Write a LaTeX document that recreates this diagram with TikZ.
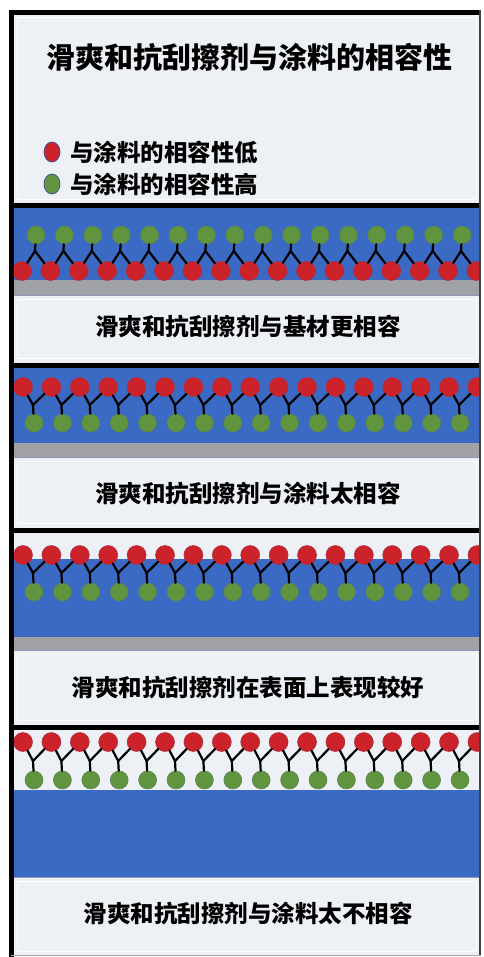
\documentclass[tikz,border=0pt]{standalone}
\usepackage{fontspec}
\newfontfamily\cjk{Noto Sans CJK SC}
\usetikzlibrary{shapes.geometric}
\definecolor{redc}{RGB}{204,34,42}
\definecolor{greenc}{RGB}{96,148,62}
\definecolor{coat}{RGB}{58,106,196}
\definecolor{substrate}{RGB}{160,162,165}
\definecolor{panelbg}{RGB}{237,240,245}
\definecolor{ringc}{RGB}{70,80,150}
\tikzset{
  redball/.style={circle, fill=redc, draw=redc!75!ringc, line width=0.5pt, minimum size=19pt, inner sep=0pt},
  greenball/.style={circle, fill=greenc, draw=greenc!75!ringc, line width=0.5pt, minimum size=18pt, inner sep=0pt},
  link/.style={line width=2.2pt, black, line cap=round, line join=round},
  sepline/.style={line width=5pt, black},
  titletext/.style={font=\cjk\bfseries\fontsize{29}{32}\selectfont, inner sep=0pt},
  legtext/.style={font=\cjk\bfseries\fontsize{23.5}{26}\selectfont, inner sep=0pt, anchor=west},
  labeltext/.style={font=\cjk\bfseries\fontsize{23.5}{26}\selectfont, inner sep=0pt},
  legdot/.style={ellipse, minimum width=16pt, minimum height=20pt, inner sep=0pt, draw=ringc, line width=0.8pt},
  glow/.style={draw=white, line width=1pt, opacity=0.8}
}
\begin{document}
\begin{tikzpicture}[x=1pt,y=-1pt]
\useasboundingbox (0,0) rectangle (483,957);
\fill[white] (0,0) rectangle (483,957);

% panel background
\fill[panelbg] (11,12) rectangle (481,956);

% faint inner frames of the text areas
\draw[glow] (17,18) rectangle (476,200);
\draw[glow] (17,299) rectangle (476,358);
\draw[glow] (17,461) rectangle (476,523);
\draw[glow] (17,654) rectangle (476,720);
\draw[glow] (17,881) rectangle (476,951);

\begin{scope}
\clip (11,12) rectangle (480,956);

% coating and substrate layers
\fill[coat] (11,208) rectangle (481,280);
\fill[substrate] (11,280) rectangle (481,295);
\draw[ringc!60, line width=0.6pt] (11,295) -- (481,295);

\fill[coat] (11,368) rectangle (481,443);
\fill[substrate] (11,443) rectangle (481,457);
\draw[ringc!60, line width=0.6pt] (11,457) -- (481,457);

\fill[coat] (11,559) rectangle (481,637);
\fill[substrate] (11,637) rectangle (481,650);
\draw[ringc!60, line width=0.6pt] (11,650) -- (481,650);

\fill[coat] (11,790) rectangle (481,877);
\draw[ringc!60, line width=0.6pt] (11,877) -- (481,877);

% panel A: additive anchored on the substrate (red heads down, green up)
\foreach \i in {0,...,16} \node[redball] (rA\i) at (22+28.4*\i,271) {};
\foreach \i in {0,...,15} {
  \pgfmathtruncatemacro\n{\i+1}
  \node[greenball] (gA\i) at (36+28.4*\i,235) {};
  \coordinate (jA\i) at (35+28.4*\i,251);
  \draw[link] (gA\i) -- (jA\i);
  \draw[link] (jA\i) -- (rA\i);
  \draw[link] (jA\i) -- (rA\n);
}

% panels B, C, D: red heads up, green tails down
\foreach \p/\yr/\yj/\yg in {B/387/405/423, C/555/573/592, D/742/761/780} {
  \foreach \i in {0,...,16} \node[redball] (r\p\i) at (23+28.4*\i,\yr) {};
  \foreach \i in {0,...,15} {
    \pgfmathtruncatemacro\n{\i+1}
    \node[greenball] (g\p\i) at (34+28.4*\i,\yg) {};
    \coordinate (j\p\i) at (33+28.4*\i,\yj);
    \draw[link] (r\p\i) -- (j\p\i);
    \draw[link] (r\p\n) -- (j\p\i);
    \draw[link] (j\p\i) -- (g\p\i);
  }
}
\end{scope}

% separators and frame
\draw[sepline] (9,205.5) -- (481,205.5);
\draw[sepline] (9,365.5) -- (481,365.5);
\draw[sepline] (9,530.5) -- (481,530.5);
\draw[sepline] (9,727.5) -- (481,727.5);
\draw[sepline] (9,12.5) -- (481,12.5);
\draw[line width=5pt, black] (11.5,10) -- (11.5,957);
\draw[line width=1.6pt, black!75] (480.2,10) -- (480.2,956);
\draw[line width=1pt, black!35] (11,955.5) -- (481,955.5);

% title and legend
\node[titletext] (title) at (249,57) {滑爽和抗刮擦剂与涂料的相容性};
\node[legdot, fill=redc] (dotlow) at (52,152) {};
\node[legtext] (txtlow) at (70,152) {与涂料的相容性低};
\node[legdot, fill=greenc] (dothigh) at (52,184) {};
\node[legtext] (txthigh) at (70,184) {与涂料的相容性高};

% captions
\node[labeltext] (capA) at (248,327) {滑爽和抗刮擦剂与基材更相容};
\node[labeltext] (capB) at (248,493) {滑爽和抗刮擦剂与涂料太相容};
\node[labeltext] (capC) at (248,688) {滑爽和抗刮擦剂在表面上表现较好};
\node[labeltext] (capD) at (248,913) {滑爽和抗刮擦剂与涂料太不相容};
\end{tikzpicture}
\end{document}
